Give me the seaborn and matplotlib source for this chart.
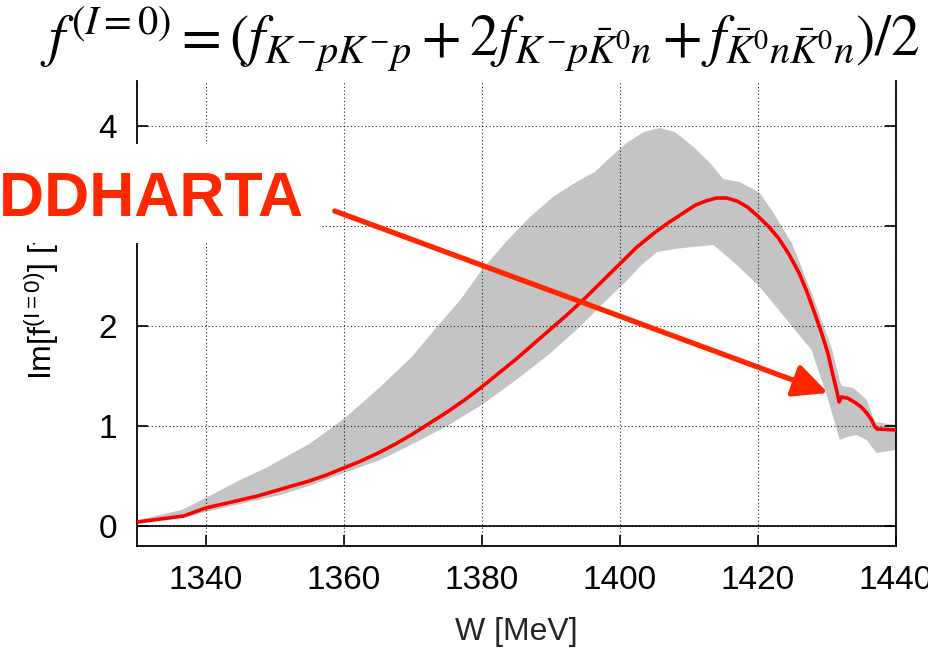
import numpy as np
import pandas as pd
import matplotlib
matplotlib.use("Agg")
import matplotlib.pyplot as plt
import seaborn as sns
from matplotlib.patches import Rectangle

# ---- data ----
w_central = [1329.0, 1336.8, 1340, 1342.5, 1345, 1347.5, 1350, 1352.5, 1355, 1357.5,
             1360, 1362.5, 1365, 1367.5, 1370, 1372.5, 1375, 1377.5, 1380, 1382.5,
             1385, 1387.5, 1390, 1392.5, 1395, 1397.5, 1400, 1402.5, 1405, 1407,
             1409, 1411, 1412.5, 1414, 1415.5, 1417, 1418.5, 1420, 1421.5, 1423,
             1424.5, 1426, 1427.2, 1428.3, 1429.3, 1430.2, 1431.0, 1431.5, 1431.8,
             1432.1, 1433.0, 1434.0, 1435.0, 1435.8, 1436.5, 1437.0, 1437.3, 1440]
im_central = [0.03, 0.10, 0.18, 0.22, 0.26, 0.30, 0.35, 0.40, 0.45, 0.51,
              0.58, 0.65, 0.73, 0.82, 0.92, 1.03, 1.14, 1.26, 1.39, 1.53,
              1.67, 1.82, 1.97, 2.12, 2.28, 2.45, 2.62, 2.79, 2.93, 3.03,
              3.12, 3.21, 3.25, 3.28, 3.28, 3.25, 3.19, 3.10, 3.00, 2.88,
              2.72, 2.53, 2.33, 2.12, 1.92, 1.72, 1.48, 1.34, 1.24,
              1.29, 1.28, 1.24, 1.19, 1.13, 1.06, 0.99, 0.97, 0.96]

w_upper = [1329.0, 1336.5, 1340, 1345, 1349, 1355, 1360, 1365.3, 1370, 1373.5, 1376.9,
           1380, 1383.5, 1387, 1390.5, 1394.2, 1396.4, 1398.7, 1401, 1403.5, 1405.8,
           1408, 1410.7, 1413.1, 1415, 1417.4, 1420.3, 1422.3, 1425, 1428, 1430.8,
           1431.9, 1432.2, 1433.9, 1435.8, 1437, 1440]
im_upper = [0.04, 0.16, 0.28, 0.46, 0.59, 0.82, 1.07, 1.39, 1.70, 1.99, 2.26,
            2.56, 2.84, 3.09, 3.30, 3.46, 3.54, 3.69, 3.83, 3.94, 3.98,
            3.94, 3.79, 3.63, 3.47, 3.44, 3.33, 3.13, 2.82, 2.30, 1.76,
            1.45, 1.40, 1.38, 1.26, 1.04, 1.01]

w_lower = [1329.0, 1336.5, 1340, 1345, 1350.8, 1355, 1360, 1365.3, 1370, 1375, 1380,
           1385, 1390, 1394.2, 1398.1, 1401, 1403, 1405.4, 1408, 1410.5, 1413.6, 1417,
           1420.3, 1424, 1427.8, 1430, 1431.9, 1433, 1434.3, 1435.8, 1437.2, 1440]
im_lower = [0.02, 0.08, 0.14, 0.22, 0.31, 0.40, 0.53, 0.66, 0.82, 1.00, 1.21,
            1.46, 1.73, 1.99, 2.26, 2.45, 2.60, 2.74, 2.77, 2.79, 2.81, 2.61,
            2.39, 2.08, 1.76, 1.31, 0.86, 0.89, 0.91, 0.86, 0.73, 0.76]

x_ticks = [1340, 1360, 1380, 1400, 1420, 1440]
y_ticks = [0, 1, 2, 3, 4]

title_tex = (r"$f^{(I{=}0)} = (f_{K^{-}pK^{-}p} + 2f_{K^{-}p\bar{K}^{0}n}"
             r" + f_{\bar{K}^{0}n\bar{K}^{0}n})/2$")
ylabel_tex = r"Im[f$^{\mathrm{(I{=}0)}}$] [fm]"
xlabel_txt = "W [MeV]"
note_txt = "SIDDHARTA"

# ---- style ----
sns.set_style("ticks")
plt.rcParams["font.family"] = ["Liberation Sans", "DejaVu Sans"]
plt.rcParams["mathtext.fontset"] = "custom"
plt.rcParams["mathtext.rm"] = "Liberation Sans"
plt.rcParams["mathtext.it"] = "Liberation Sans:italic"
plt.rcParams["mathtext.bf"] = "Liberation Sans:bold"

W, H = 929, 651
fig = plt.figure(figsize=(W / 100, H / 100), dpi=100)
ax = fig.add_axes([136.7 / W, 1 - 546 / H, (895.7 - 136.7) / W, (546 - 81) / H])

# band polygon: upper edge forward, lower edge back
ax.fill(list(w_upper) + list(w_lower[::-1]), list(im_upper) + list(im_lower[::-1]),
        color="#c4c4c4", lw=0, zorder=1)

df = pd.DataFrame({"W": w_central, "Im": im_central})
sns.lineplot(data=df, x="W", y="Im", ax=ax, color="#ff0000", lw=2.6, zorder=4,
             sort=False, estimator=None)

ax.axhline(0, color="black", lw=1.2, zorder=3)

ax.set_xlim(1330, 1440)
ax.set_ylim(-0.2, 4.45)
ax.set_xticks(x_ticks)
ax.set_yticks(y_ticks)
ax.set_axisbelow(False)
ax.grid(True, linestyle=(0, (1, 2.2)), color="black", lw=0.8, alpha=0.85)

for s in ["left", "right", "bottom"]:
    ax.spines[s].set_visible(True)
    ax.spines[s].set_linewidth(1.3)
    ax.spines[s].set_color("black")
ax.spines["top"].set_visible(False)

ax.tick_params(axis="both", direction="in", length=8, width=1.2, labelsize=24,
               colors="black")
ax.tick_params(axis="y", left=True, right=True, pad=14)
ax.tick_params(axis="x", bottom=True, top=False, pad=14)

ax.set_xlabel(xlabel_txt, fontsize=23, labelpad=15)
ax.set_ylabel("")
fig.text(52 / W, 1 - 380 / H, ylabel_tex, rotation=90, rotation_mode="anchor",
         ha="left", va="baseline", fontsize=23, color="black", zorder=3)

# arrow
ax.annotate("", xy=(1430.2, 1.33), xytext=(1358.7, 3.15),
            arrowprops=dict(arrowstyle="-|>,head_length=0.52,head_width=0.25",
                            color="#ff2600", lw=3.8, mutation_scale=40,
                            shrinkA=0, shrinkB=0),
            zorder=6)

# white box hiding part of the axis + label
fig.patches.append(Rectangle((0, 408 / H), 320 / W, 99 / H, transform=fig.transFigure,
                             facecolor="white", edgecolor="none", zorder=5))
fig.text(303 / W, 1 - 217 / H, note_txt, ha="right", va="baseline", fontsize=45,
         fontweight="bold", color="#ff2600", zorder=7)

fig.text(480 / W, 1 - 56 / H, title_tex, ha="center", va="baseline", fontsize=41.5,
         math_fontfamily="stix", color="black")

fig.savefig("out.png", dpi=100)
